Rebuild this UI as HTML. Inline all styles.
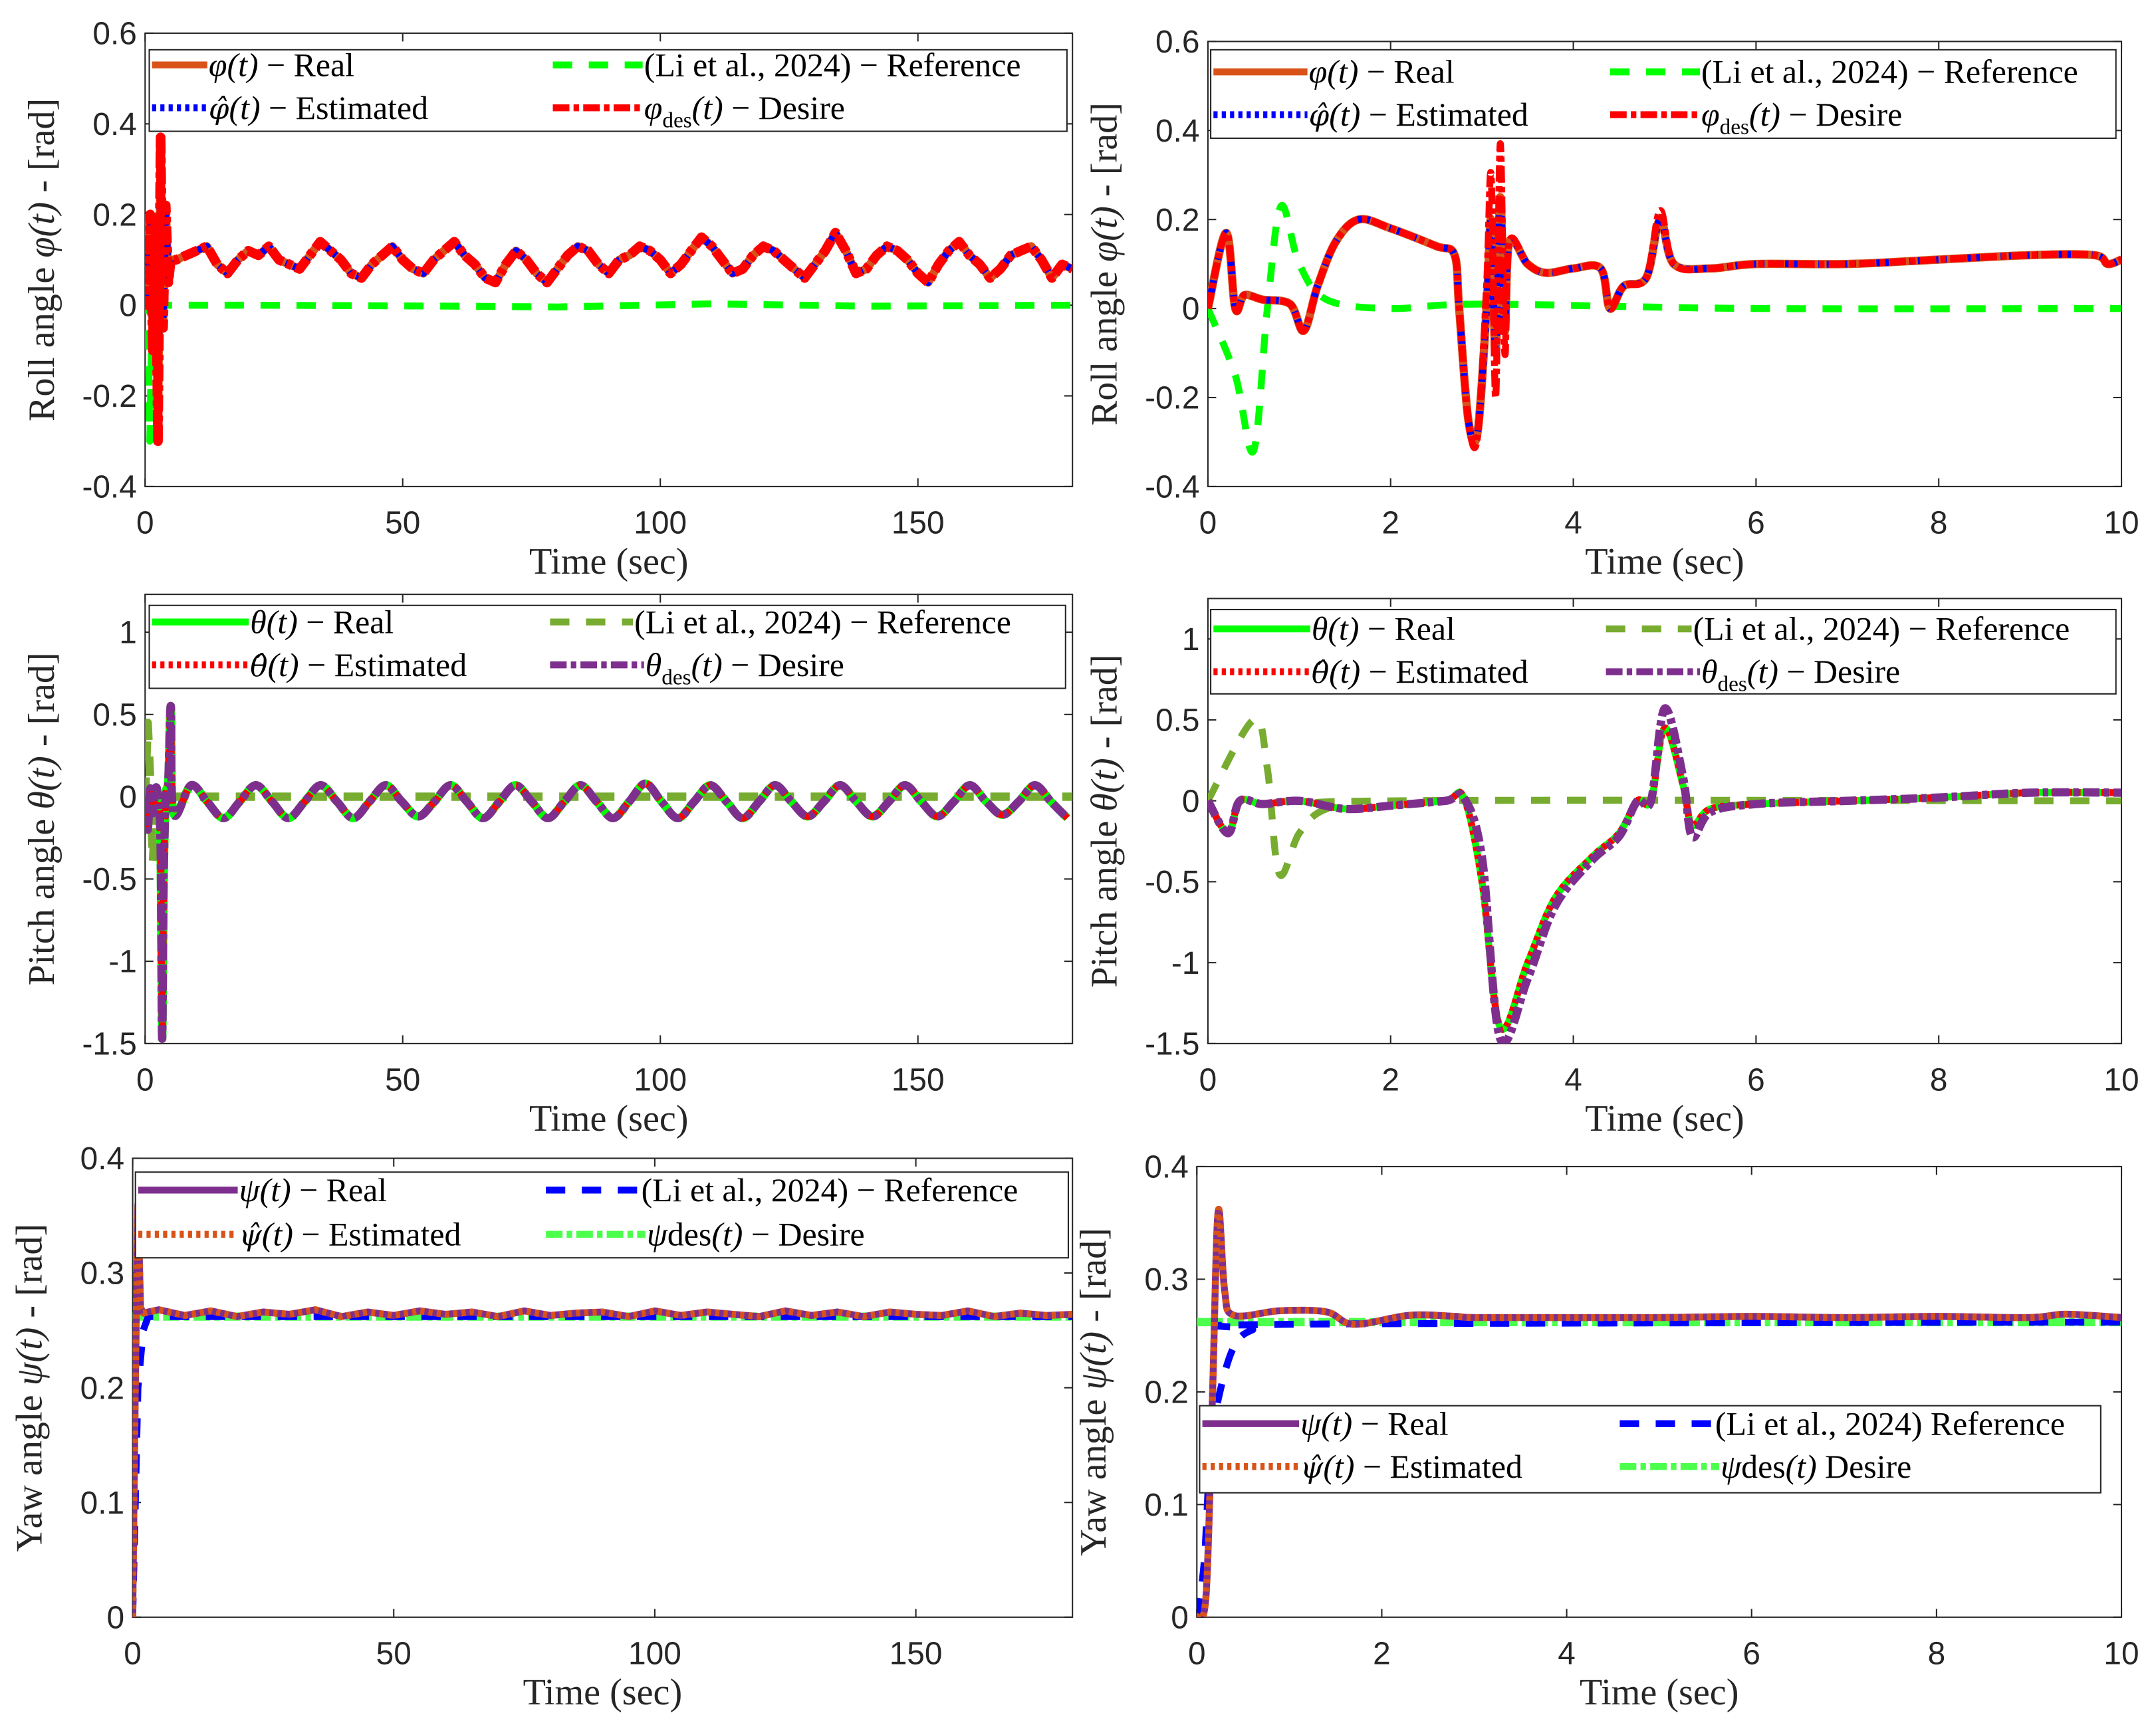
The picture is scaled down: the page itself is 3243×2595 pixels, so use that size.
<!DOCTYPE html>
<html><head><meta charset="utf-8"><style>
html,body{margin:0;padding:0;background:#fff}
svg{display:block}
text{font-family:"Liberation Serif",serif}
.tk{font-family:"Liberation Sans",sans-serif;font-size:23px;fill:#262626}
.lg{font-size:24px;fill:#000}
.al{font-size:27px;fill:#262626}
</style></head><body>
<svg id="fig" width="3243" height="2595" viewBox="0 0 1560 1248" preserveAspectRatio="none" xmlns="http://www.w3.org/2000/svg"></svg>
<script>
// ---------- DATA ----------
// Top-left: roll 0-180 s
const rollLongStartT=[0,0.5,1,1.5,2,2.5,3,3.5,4,4.5,5];
const rollLongStartV=[0.15,0.0,0.2,-0.1,0.18,-0.3,0.37,-0.05,0.22,0.05,0.1];
const rollLongVals=[0.10,0.11,0.12,0.13,0.09,0.07,0.10,0.12,0.11,0.13,0.10,0.09,0.08,0.11,0.14,0.12,0.10,0.07,0.06,0.09,0.11,0.13,0.10,0.08,0.07,0.10,0.12,0.14,0.11,0.09,0.06,0.05,0.09,0.12,0.10,0.07,0.05,0.08,0.11,0.13,0.12,0.09,0.07,0.10,0.11,0.13,0.12,0.10,0.07,0.09,0.12,0.15,0.13,0.10,0.07,0.08,0.11,0.13,0.12,0.10,0.08,0.06,0.09,0.12,0.16,0.12,0.07,0.08,0.11,0.13,0.12,0.10,0.07,0.05,0.09,0.12,0.14,0.11,0.09,0.06,0.08,0.11,0.12,0.13,0.10,0.06,0.09,0.08];
const rollLongRefT=[0,0.3,0.6,0.9,1.2,1.6,2.5,4,20,60,80,110,140,180];
const rollLongRefV=[0,0.21,-0.05,-0.3,-0.1,0.05,0.0,0.0,0.0,-0.002,-0.004,0.003,-0.002,0];
// Top-right: roll 0-10 s
const rollT=[0,0.2,0.3,0.4,0.6,0.9,1.05,1.2,1.4,1.65,2.0,2.5,2.7,2.75,2.85,2.95,3.05,3.1,3.15,3.2,3.25,3.3,3.5,3.7,4.0,4.3,4.4,4.55,4.8,4.95,5.1,5.5,6,7,8,9,9.7,9.85,10];
const rollReal=[0,0.17,0.0,0.03,0.02,0.01,-0.05,0.05,0.15,0.2,0.18,0.14,0.12,0.0,-0.25,-0.28,0.0,0.2,-0.1,0.25,-0.05,0.15,0.1,0.08,0.09,0.09,0.0,0.05,0.07,0.2,0.1,0.09,0.1,0.1,0.11,0.12,0.12,0.1,0.11];
const rollDes=[0,0.17,0.0,0.03,0.02,0.01,-0.05,0.05,0.15,0.2,0.18,0.14,0.12,0.0,-0.25,-0.29,0.05,0.3,-0.2,0.37,-0.1,0.15,0.1,0.08,0.09,0.09,0.0,0.05,0.07,0.22,0.1,0.09,0.1,0.1,0.11,0.12,0.12,0.1,0.11];
const rollRefT=[0,0.3,0.5,0.65,0.8,1.0,1.3,2,3,6,10];
const rollRefV=[0,-0.15,-0.32,0.0,0.23,0.1,0.02,0,0.01,0,0];
// Middle-left: pitch 0-180 s
const pitchLongStartT=[0,0.5,1,1.5,2,2.5,3,3.3,3.6,4,4.5,5,5.5];
const pitchLongStartV=[0,-0.2,0.05,-0.1,0.05,0,-0.3,-1.47,-0.5,0,0.1,0.55,-0.1];
const pitchLongVals=[0.07,-0.03,-0.13,-0.03,0.07,-0.03,-0.13,-0.03,0.07,-0.03,-0.13,-0.03,0.07,-0.03,-0.12,-0.03,0.07,-0.03,-0.13,-0.03,0.07,-0.03,-0.13,-0.03,0.07,-0.03,-0.13,-0.03,0.08,-0.03,-0.13,-0.03,0.07,-0.03,-0.13,-0.03,0.07,-0.03,-0.12,-0.03,0.07,-0.03,-0.12,-0.03,0.07,-0.03,-0.12,-0.03,0.07,-0.03,-0.11,-0.03,0.07,-0.03,-0.13];
const pitchLongRefT=[0,0.5,1,1.5,2,3,5,180];
const pitchLongRefV=[0,0.45,0.1,-0.4,-0.1,0.02,0,0];
// Middle-right: pitch 0-10 s
const pitchT=[0,0.22,0.35,0.6,1,1.5,2,2.6,2.8,3.0,3.2,3.5,3.8,4.2,4.5,4.7,4.85,5.0,5.2,5.3,5.5,6,7,8,9,10];
const pitchReal=[0,-0.2,0,-0.02,0,-0.05,-0.03,0,0.02,-0.5,-1.4,-1.0,-0.6,-0.35,-0.2,0,0,0.45,0.1,-0.15,-0.05,-0.02,0,0.02,0.05,0.05];
const pitchDes=[0,-0.2,0,-0.02,0,-0.05,-0.03,0,0.02,-0.35,-1.47,-1.1,-0.65,-0.37,-0.22,0,0,0.57,0.15,-0.22,-0.07,-0.02,0,0.02,0.05,0.05];
const pitchRefT=[0,0.5,0.65,0.78,1.0,1.3,2,10];
const pitchRefV=[0,0.5,0.2,-0.45,-0.2,-0.05,0,0];
// Bottom-left: yaw 0-180
const yawLongT=[0,0.5,1,1.5,2,5,10,15,20,25,30,35,40,45,50,55,60,65,70,75,80,85,90,95,100,105,110,115,120,125,130,135,140,145,150,155,160,165,170,175,180];
const yawLongV=[0,0.2,0.36,0.27,0.265,0.268,0.263,0.267,0.262,0.266,0.264,0.268,0.262,0.266,0.263,0.267,0.264,0.266,0.262,0.267,0.263,0.265,0.266,0.262,0.267,0.263,0.266,0.264,0.262,0.267,0.263,0.266,0.262,0.266,0.264,0.263,0.267,0.262,0.265,0.263,0.264];
const yawLongRefT=[0,0.5,1,2,3,180];
const yawLongRefV=[0,0.1,0.2,0.25,0.262,0.262];
const yawDesLong=0.262;
// Bottom-right: yaw 0-10
const yawT=[0,0.1,0.17,0.23,0.3,0.4,0.9,1.4,1.7,2.3,2.8,3,4,5,6,7,8,9,9.4,10];
const yawV=[0,0.02,0.2,0.36,0.29,0.268,0.272,0.271,0.26,0.268,0.267,0.266,0.266,0.266,0.267,0.266,0.267,0.266,0.269,0.266];
const yawRefT=[0,0.08,0.15,0.25,0.4,0.6,1,10];
const yawRefV=[0,0.05,0.15,0.2,0.24,0.255,0.26,0.262];
const yawDes=0.262;

// ---------- DRAWING ----------
const NS="http://www.w3.org/2000/svg";
const svg=document.getElementById('fig');
function el(tag,attrs,parent){const e=document.createElementNS(NS,tag);for(const k in attrs)e.setAttribute(k,attrs[k]);(parent||svg).appendChild(e);return e;}
function mkAxes(b){
  const g=el('g',{});
  
  
  const sx=v=>b.x0+(v-b.xd[0])/(b.xd[1]-b.xd[0])*(b.x1-b.x0);
  const sy=v=>b.y1-(v-b.yd[0])/(b.yd[1]-b.yd[0])*(b.y1-b.y0);
  el('rect',{x:b.x0,y:b.y0,width:b.x1-b.x0,height:b.y1-b.y0,fill:'#fff',stroke:'#262626','stroke-width':1},g);
  b.xt.forEach(v=>{const x=sx(v);
    el('line',{x1:x,x2:x,y1:b.y1,y2:b.y1-6,stroke:'#262626','stroke-width':1},g);
    el('line',{x1:x,x2:x,y1:b.y0,y2:b.y0+6,stroke:'#262626','stroke-width':1},g);
    const t=el('text',{x:x,y:b.y1+34,'text-anchor':'middle',class:'tk'},g);t.textContent=v;
    
    });
  b.yt.forEach(v=>{const y=sy(v);
    el('line',{x1:b.x0,x2:b.x0+6,y1:y,y2:y,stroke:'#262626','stroke-width':1},g);
    el('line',{x1:b.x1,x2:b.x1-6,y1:y,y2:y,stroke:'#262626','stroke-width':1},g);
    const t=el('text',{x:b.x0-6,y:y+8,'text-anchor':'end',class:'tk'},g);t.textContent=String(v);
    
    });
  const xl=el('text',{x:(b.x0+b.x1)/2,y:b.y1+63,'text-anchor':'middle',class:'al'},g);xl.textContent='Time (sec)';
  
  
  const yl=el('text',{x:0,y:0,'text-anchor':'middle',class:'al',transform:`translate(${b.x0-66},${(b.y0+b.y1)/2}) rotate(-90)`},g);
  yl.innerHTML=b.ylab;
  
  
  const clip='c'+b.name;
  const cp=el('clipPath',{id:clip},g);el('rect',{x:b.x0,y:b.y0,width:b.x1-b.x0,height:b.y1-b.y0},cp);
  const pg=el('g',{'clip-path':`url(#${clip})`},g);
  return {g,pg,sx,sy,b};
}
function pathD(ax,ts,vs,smooth){
  const P=ts.map((t,i)=>[ax.sx(t),ax.sy(vs[i])]);
  if(!smooth) return P.map((p,i)=>(i?'L':'M')+p[0].toFixed(1)+','+p[1].toFixed(1)).join('');
  let d='M'+P[0][0].toFixed(1)+','+P[0][1].toFixed(1);
  for(let i=0;i<P.length-1;i++){
    const p0=P[Math.max(0,i-1)],p1=P[i],p2=P[i+1],p3=P[Math.min(P.length-1,i+2)];
    const c1=[p1[0]+(p2[0]-p0[0])/6,p1[1]+(p2[1]-p0[1])/6];
    const c2=[p2[0]-(p3[0]-p1[0])/6,p2[1]-(p3[1]-p1[1])/6];
    d+=`C${c1[0].toFixed(1)},${c1[1].toFixed(1)} ${c2[0].toFixed(1)},${c2[1].toFixed(1)} ${p2[0].toFixed(1)},${p2[1].toFixed(1)}`;
  }
  return d;
}
function series(ax,ts,vs,st,name){
  const p=el('path',{d:pathD(ax,ts,vs,st.s),fill:'none',stroke:st.c,'stroke-width':st.w||4,'stroke-dasharray':st.da||'none','stroke-linejoin':'round'},ax.pg);
  
  
}
function legend(ax,x0,y0,x1,y1,items){
  const g=el('g',{},ax.g);
  
  
  el('rect',{x:x0,y:y0,width:x1-x0,height:y1-y0,fill:'#fff',stroke:'#262626','stroke-width':1},g);
  items.forEach(it=>{
    el('line',{x1:it.x,x2:it.x+it.l,y1:it.y,y2:it.y,stroke:it.c,'stroke-width':it.w||5,'stroke-dasharray':it.da||'none'},g);
    const t=el('text',{x:it.x+it.l+1,y:it.y+8,class:'lg'},g);t.innerHTML=it.h;
    
    
  });
}
const I=s=>`<tspan font-style="italic">${s}</tspan>`;
const H=s=>`<tspan font-style="italic" font-family="DejaVu Serif" font-size="21">${s}\u0302</tspan><tspan font-style="italic">(t)</tspan>`;
const DES=s=>`<tspan font-style="italic">${s}</tspan><tspan font-size="16" dy="6">des</tspan><tspan font-style="italic" dy="-6">(t)</tspan>`;
const ORG='#D95319',BLU='#0000FF',GRN='#00FF00',RED='#FF0000',OLV='#77AC30',PUR='#7E2F8E',LGR='#4DFF4D';

function toT(start,startV,step,vals,t0){const T=start.slice(),V=startV.slice();vals.forEach((v,i)=>{T.push(t0+i*step);V.push(v);});return [T,V];}

// Top-left
let a=mkAxes({name:'roll-long-axes',x0:105,x1:776,y0:24,y1:352,xd:[0,180],yd:[-0.4,0.6],xt:[0,50,100,150],yt:[-0.4,-0.2,0,0.2,0.4,0.6],ylab:`Roll angle ${I('φ(t)')} - [rad]`});
let [T1,V1]=toT(rollLongStartT,rollLongStartV,2,rollLongVals,6);
series(a,rollLongRefT,rollLongRefV,{c:GRN,w:5,da:'14 12'},'roll-long-reference');
series(a,T1,V1,{c:ORG,w:6},'roll-long-real');
series(a,T1,V1,{c:BLU,w:5,da:'3 3'},'roll-long-estimated');
series(a,T1,V1,{c:RED,w:7,da:'12 3 4 3'},'roll-long-desired');
legend(a,108,36,772,95,[
 {x:110,y:47,l:40,c:ORG,h:`${I('φ(t)')} − Real`},
 {x:110,y:78,l:40,c:BLU,da:'3 3',h:`${H('φ')} − Estimated`},
 {x:400,y:47,l:65,c:GRN,da:'14 12',h:`(Li et al., 2024) − Reference`},
 {x:400,y:78,l:65,c:RED,da:'12 3 4 3',h:`${DES('φ')} − Desire`}]);

// Top-right
a=mkAxes({name:'roll-short-axes',x0:874,x1:1535,y0:30,y1:352,xd:[0,10],yd:[-0.4,0.6],xt:[0,2,4,6,8,10],yt:[-0.4,-0.2,0,0.2,0.4,0.6],ylab:`Roll angle ${I('φ(t)')} - [rad]`});
series(a,rollRefT,rollRefV,{c:GRN,w:5,da:'14 12',s:1},'roll-short-reference');
series(a,rollT,rollReal,{c:ORG,w:6,s:1},'roll-short-real');
series(a,rollT,rollReal,{c:BLU,w:5,da:'3 3',s:1},'roll-short-estimated');
series(a,rollT,rollDes,{c:RED,w:5,da:'12 3 4 3',s:1},'roll-short-desired');
legend(a,876,36,1531,100,[
 {x:878,y:52,l:68,c:ORG,h:`${I('φ(t)')} − Real`},
 {x:878,y:83,l:68,c:BLU,da:'3 3',h:`${H('φ')} − Estimated`},
 {x:1165,y:52,l:65,c:GRN,da:'14 12',h:`(Li et al., 2024) − Reference`},
 {x:1165,y:83,l:65,c:RED,da:'12 3 4 3',h:`${DES('φ')} − Desire`}]);

// Middle-left
a=mkAxes({name:'pitch-long-axes',x0:105,x1:776,y0:430,y1:755,xd:[0,180],yd:[-1.5,1.23],xt:[0,50,100,150],yt:[-1.5,-1,-0.5,0,0.5,1],ylab:`Pitch angle ${I('θ(t)')} - [rad]`});
let [T2,V2]=toT(pitchLongStartT,pitchLongStartV,3.15,pitchLongVals,8.9);
series(a,pitchLongRefT,pitchLongRefV,{c:OLV,w:6,da:'14 12'},'pitch-long-reference');
series(a,T2,V2,{c:GRN,w:6,s:1},'pitch-long-real');
series(a,T2,V2,{c:RED,w:5,da:'3 3',s:1},'pitch-long-estimated');
series(a,T2,V2,{c:PUR,w:6,da:'12 3 4 3',s:1},'pitch-long-desired');
legend(a,108,438,771,498,[
 {x:110,y:450,l:70,c:GRN,h:`${I('θ(t)')} − Real`},
 {x:110,y:481,l:70,c:RED,da:'3 3',h:`${H('θ')} − Estimated`},
 {x:398,y:450,l:60,c:OLV,da:'14 12',h:`(Li et al., 2024) − Reference`},
 {x:398,y:481,l:68,c:PUR,da:'12 3 4 3',h:`${DES('θ')} − Desire`}]);

// Middle-right
a=mkAxes({name:'pitch-short-axes',x0:874,x1:1535,y0:433,y1:755,xd:[0,10],yd:[-1.5,1.25],xt:[0,2,4,6,8,10],yt:[-1.5,-1,-0.5,0,0.5,1],ylab:`Pitch angle ${I('θ(t)')} - [rad]`});
series(a,pitchRefT,pitchRefV,{c:OLV,w:5,da:'14 12',s:1},'pitch-short-reference');
series(a,pitchT,pitchReal,{c:GRN,w:5,s:1},'pitch-short-real');
series(a,pitchT,pitchReal,{c:RED,w:5,da:'3 3',s:1},'pitch-short-estimated');
series(a,pitchT,pitchDes,{c:PUR,w:6,da:'12 3 4 3',s:1},'pitch-short-desired');
legend(a,876,441,1531,502,[
 {x:878,y:455,l:70,c:GRN,h:`${I('θ(t)')} − Real`},
 {x:878,y:486,l:70,c:RED,da:'3 3',h:`${H('θ')} − Estimated`},
 {x:1162,y:455,l:62,c:OLV,da:'14 12',h:`(Li et al., 2024) − Reference`},
 {x:1162,y:486,l:68,c:PUR,da:'12 3 4 3',h:`${DES('θ')} − Desire`}]);

// Bottom-left
a=mkAxes({name:'yaw-long-axes',x0:96,x1:776,y0:838,y1:1170,xd:[0,180],yd:[0,0.4],xt:[0,50,100,150],yt:[0,0.1,0.2,0.3,0.4],ylab:`Yaw angle ${I('ψ(t)')} - [rad]`});
series(a,[0,180],[yawDesLong,yawDesLong],{c:LGR,w:6,da:'12 3 4 3'},'yaw-long-desired');
series(a,yawLongRefT,yawLongRefV,{c:BLU,w:5,da:'14 12'},'yaw-long-reference');
series(a,yawLongT,yawLongV,{c:PUR,w:5},'yaw-long-real');
series(a,yawLongT,yawLongV,{c:ORG,w:5,da:'3 3'},'yaw-long-estimated');
legend(a,98,848,773,910,[
 {x:100,y:861,l:72,c:PUR,h:`${I('ψ(t)')} − Real`},
 {x:100,y:893,l:72,c:ORG,da:'3 3',h:`${H('ψ')} − Estimated`},
 {x:395,y:861,l:68,c:BLU,da:'14 12',h:`(Li et al., 2024) − Reference`},
 {x:395,y:893,l:72,c:LGR,da:'12 3 4 3',h:`${I('ψ')}des${I('(t)')} − Desire`}]);

// Bottom-right
a=mkAxes({name:'yaw-short-axes',x0:866,x1:1535,y0:844,y1:1170,xd:[0,10],yd:[0,0.4],xt:[0,2,4,6,8,10],yt:[0,0.1,0.2,0.3,0.4],ylab:`Yaw angle ${I('ψ(t)')} - [rad]`});
series(a,[0,10],[yawDes,yawDes],{c:LGR,w:6,da:'12 3 4 3'},'yaw-short-desired');
series(a,yawRefT,yawRefV,{c:BLU,w:5,da:'14 12',s:1},'yaw-short-reference');
series(a,yawT,yawV,{c:PUR,w:5,s:1},'yaw-short-real');
series(a,yawT,yawV,{c:ORG,w:5,da:'3 3',s:1},'yaw-short-estimated');
legend(a,868,1017,1520,1080,[
 {x:870,y:1030,l:70,c:PUR,h:`${I('ψ(t)')} − Real`},
 {x:870,y:1061,l:70,c:ORG,da:'3 3',h:`${H('ψ')} − Estimated`},
 {x:1172,y:1030,l:68,c:BLU,da:'14 12',h:`(Li et al., 2024) Reference`},
 {x:1172,y:1061,l:72,c:LGR,da:'12 3 4 3',h:`${I('ψ')}des${I('(t)')} Desire`}]);
</script>
</body></html>
